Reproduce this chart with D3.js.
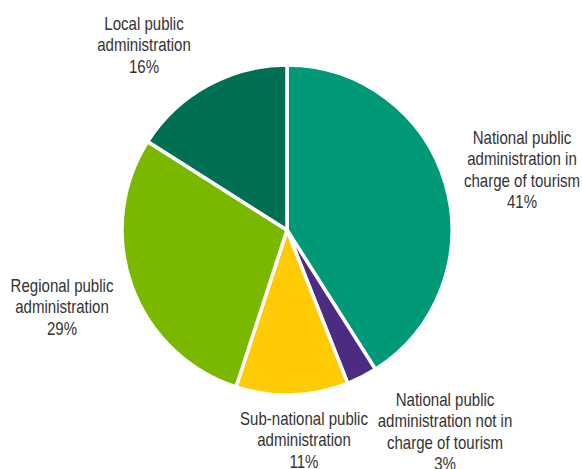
<!DOCTYPE html>
<html>
<head>
<meta charset="utf-8">
<script src="https://cdn.jsdelivr.net/npm/d3@7"></script>
<style>
  html, body { margin: 0; padding: 0; background: #fff; }
  svg text { font-family: "Liberation Sans", Arial, sans-serif; fill: #333333; }
</style>
</head>
<body>
<svg id="chart" width="582" height="469"></svg>
<script>
// Share of public administrations (clockwise from 12 o'clock)
const categories = [
  "National public administration in charge of tourism",
  "National public administration not in charge of tourism",
  "Sub-national public administration",
  "Regional public administration",
  "Local public administration"
];
const values = [41, 3, 11, 29, 16];
const labelLines = [
  ["National public", "administration in", "charge of tourism"],
  ["National public", "administration not in", "charge of tourism"],
  ["Sub-national public", "administration"],
  ["Regional public", "administration"],
  ["Local public", "administration"]
];
const colors = ["#009977", "#4b2c80", "#ffcb05", "#7ab800", "#006f53"];

// Layout
const width = 582, height = 469;
const cx = 287, cy = 230, radius = 165;
const lineH = 21.5;
const narrow = 0.86; // horizontal squeeze for a condensed face
// label block centres (x, y of middle of block), relative to pie centre
const labelAnchors = [
  [235, -60],
  [158, 202],
  [17, 210],
  [-225, 77],
  [-143, -185]
];

const svg = d3.select("#chart");
const g = svg.append("g").attr("transform", `translate(${cx},${cy})`);

const pie = d3.pie().sort(null).value(d => d.value);
const arc = d3.arc().innerRadius(0).outerRadius(radius);

const data = categories.map((c, i) => ({ name: c, value: values[i], color: colors[i], lines: labelLines[i] }));
const arcs = pie(data);

g.selectAll("path.slice")
  .data(arcs)
  .join("path")
  .attr("class", "slice")
  .attr("d", arc)
  .attr("fill", d => d.data.color)
  .attr("stroke", "#fff")
  .attr("stroke-width", 3.5)
  .attr("stroke-linejoin", "miter");

const labels = g.selectAll("text.label")
  .data(arcs)
  .join("text")
  .attr("class", "label")
  .attr("text-anchor", "middle")
  .attr("font-size", 17.5)
  .attr("transform", (d, i) => `translate(${labelAnchors[i][0]},${labelAnchors[i][1]}) scale(${narrow},1)`);

labels.each(function (d) {
  const lines = d.data.lines.concat([d.data.value + "%"]);
  const top = -(lines.length - 1) * lineH / 2;
  const t = d3.select(this);
  lines.forEach((ln, k) => {
    t.append("tspan")
      .attr("x", 0)
      .attr("y", top + k * lineH)
      .attr("dy", "0.35em")
      .text(ln);
  });
});
</script>
</body>
</html>
